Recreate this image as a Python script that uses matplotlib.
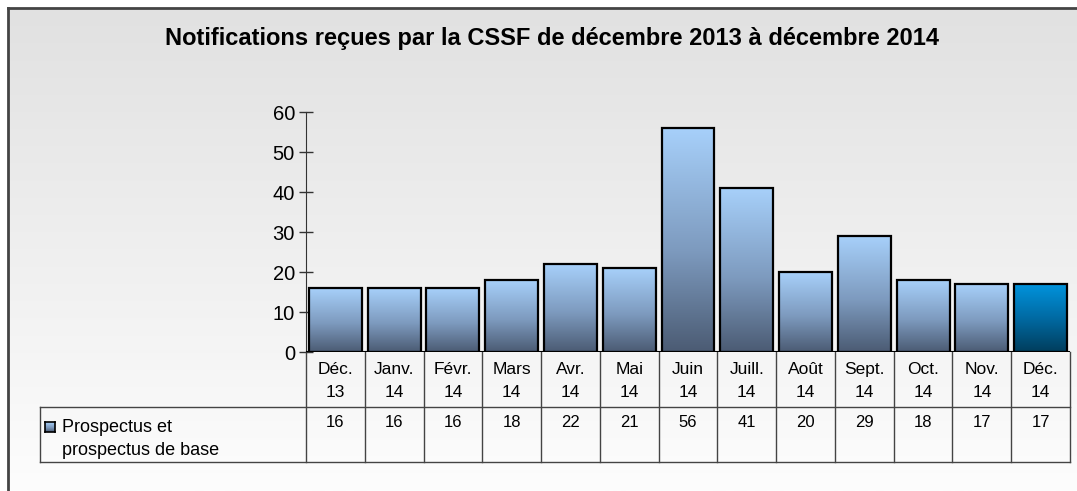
import numpy as np
import matplotlib
matplotlib.use('Agg')
import matplotlib.pyplot as plt
from matplotlib.colors import LinearSegmentedColormap

plt.rcParams['font.family'] = ['Liberation Sans', 'DejaVu Sans']

# %% data
months = ['Déc.\n13', 'Janv.\n14', 'Févr.\n14', 'Mars\n14', 'Avr.\n14', 'Mai\n14', 'Juin\n14',
          'Juill.\n14', 'Août\n14', 'Sept.\n14', 'Oct.\n14', 'Nov.\n14', 'Déc.\n14']
values = [16, 16, 16, 18, 22, 21, 56, 41, 20, 29, 18, 17, 17]
series_name = 'Prospectus et\nprospectus de base'
title = 'Notifications reçues par la CSSF de décembre 2013 à décembre 2014'

# %% figure
W, H = 1077, 491
fig = plt.figure(figsize=(W / 100, H / 100), dpi=100)

# background with frame
bg = fig.add_axes([0, 0, 1, 1], zorder=-5)
grad = np.linspace(0, 1, 256).reshape(-1, 1)
bg_cmap = LinearSegmentedColormap.from_list('bg', ['#e1e1e1', '#fdfdfd'])
bg.imshow(grad, extent=[8, W, 0, H - 8], aspect='auto', cmap=bg_cmap, origin='upper')
bg.plot([8, W], [H - 8, H - 8], color='#444444', lw=2)
bg.plot([8, 8], [0, H - 8], color='#444444', lw=2)
bg.set_xlim(0, W)
bg.set_ylim(0, H)
bg.axis('off')

# main axes
x0, x1, y0, y1 = 306, 1070, 352, 112
ax = fig.add_axes([x0 / W, (H - y0) / H, (x1 - x0) / W, (y0 - y1) / H])
ax.patch.set_visible(False)
x = np.arange(len(values))
bars = ax.bar(x, values, width=0.9, facecolor='none', edgecolor='black', lw=1.6, zorder=3)

blue = LinearSegmentedColormap.from_list('b', [(0, '#4b5b73'), (0.45, '#7d9aBE'), (1, '#a7d0fa')])
dark = LinearSegmentedColormap.from_list('d', [(0, '#003d5c'), (0.5, '#006aa3'), (1, '#0093dc')])
g = np.linspace(0, 1, 256).reshape(-1, 1)
for i, b in enumerate(bars):
    cm = dark if i == len(bars) - 1 else blue
    im = ax.imshow(g, extent=[b.get_x(), b.get_x() + b.get_width(), 0, b.get_height()],
                   aspect='auto', cmap=cm, origin='lower', zorder=2)
    im.set_clip_path(b)

ax.set_xlim(-0.5, len(values) - 0.5)
ax.set_ylim(0, 60)
ax.set_yticks(range(0, 61, 10))
ax.tick_params(axis='y', direction='inout', length=10, width=1, labelsize=14.5, pad=3, color='#333333')
ax.set_xticks([])
for s in ['top', 'right', 'bottom']:
    ax.spines[s].set_visible(False)
ax.spines['left'].set_color('#333333')
ax.axhline(0, color='black', lw=1.5, zorder=4)

# data table under the axes
tr = ax.get_xaxis_transform()
r1 = -55 / (y0 - y1)
r2 = -110 / (y0 - y1)
leg_left = -0.5 + (40 - x0) / ((x1 - x0) / len(values))
n = len(values)
lc = '#444444'
for k in range(n + 1):
    ax.plot([k - 0.5, k - 0.5], [0, r2], color=lc, lw=1, transform=tr, clip_on=False)
ax.plot([leg_left, n - 0.5], [r1, r1], color=lc, lw=1, transform=tr, clip_on=False)
ax.plot([leg_left, n - 0.5], [r2, r2], color=lc, lw=1, transform=tr, clip_on=False)
ax.plot([leg_left, leg_left], [r1, r2], color=lc, lw=1, transform=tr, clip_on=False)

for i, (m, v) in enumerate(zip(months, values)):
    ax.text(i, r1 / 2 - 0.005, m, transform=tr, ha='center', va='center', fontsize=12.5,
            linespacing=1.65)
    ax.text(i, r1 - 0.035, str(v), transform=tr, ha='center', va='top', fontsize=12)

# legend key in table
key_ax = fig.add_axes([45 / W, (H - 432) / H, 10 / W, 10 / H])
key_ax.imshow(g, aspect='auto', cmap=blue, origin='lower', extent=[0, 1, 0, 1])
key_ax.set_xticks([])
key_ax.set_yticks([])
for s in key_ax.spines.values():
    s.set_color('black')
    s.set_linewidth(1.2)
fig.text(62 / W, 1 - 419 / H, series_name, ha='left', va='top', fontsize=13,
         linespacing=1.45)

fig.text(552 / W, 1 - 38 / H, title, ha='center', va='center', fontsize=17, fontweight='bold')

fig.savefig('out.png', dpi=100)
